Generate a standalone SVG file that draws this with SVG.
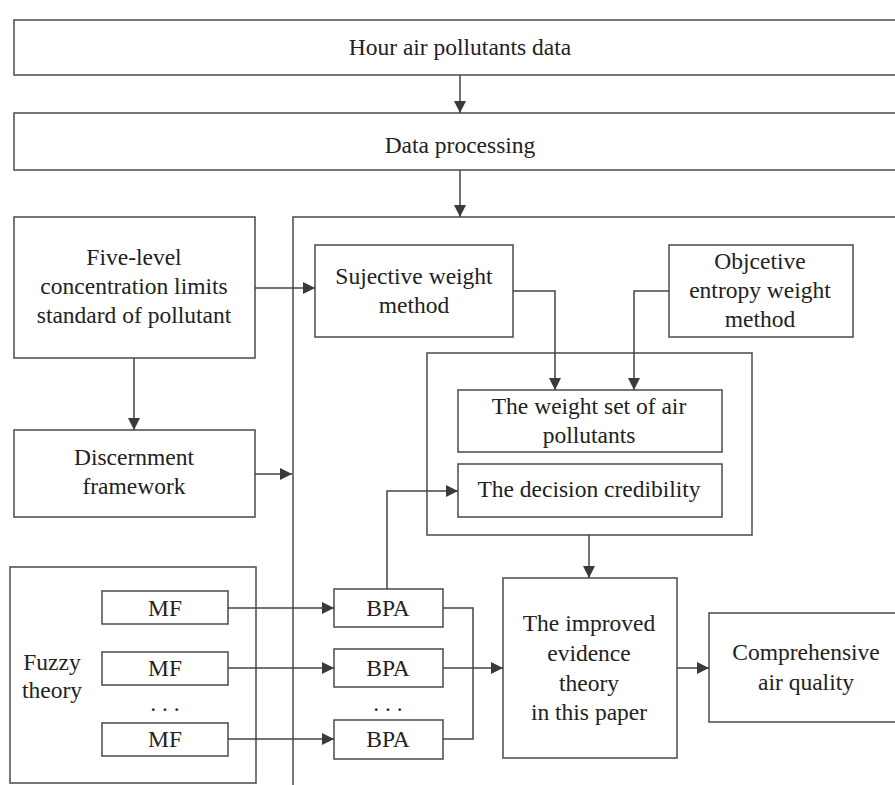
<svg xmlns="http://www.w3.org/2000/svg" width="895" height="785" viewBox="0 0 895 785">
<defs>
<marker id="ah" viewBox="0 0 10 10" refX="10" refY="5" markerWidth="12" markerHeight="12" markerUnits="userSpaceOnUse" orient="auto">
<path d="M0,0 L10,5 L0,10 z" fill="#3a3a3a"/>
</marker>
<style>
.b{fill:#fff;stroke:#555;stroke-width:1.6}
.c{fill:none;stroke:#444;stroke-width:1.5}
.a{fill:none;stroke:#444;stroke-width:1.5;marker-end:url(#ah)}
text{font-family:"Liberation Serif","Times New Roman",serif;font-size:23.5px;fill:#222;text-anchor:middle;dominant-baseline:central}
</style>
</defs>
<rect width="895" height="785" fill="#fff"/>
<g id="hour"><rect class="b" x="14" y="20" width="900" height="55"/><text x="460" y="47">Hour air pollutants data</text></g>
<g id="proc"><rect class="b" x="14" y="113" width="900" height="57"/><text x="460" y="145">Data processing</text></g>
<g id="main"><rect class="b" x="293" y="217" width="650" height="600"/></g>
<g id="five"><rect class="b" x="14" y="217" width="241" height="141"/><text x="134" y="257">Five-level</text><text x="134" y="286">concentration limits</text><text x="134" y="315">standard of pollutant</text></g>
<g id="disc"><rect class="b" x="14" y="430" width="241" height="87"/><text x="134" y="457">Discernment</text><text x="134" y="486">framework</text></g>
<g id="subj"><rect class="b" x="315" y="245" width="198" height="92"/><text x="414" y="276">Sujective weight</text><text x="414" y="305">method</text></g>
<g id="obj"><rect class="b" x="669" y="245" width="184" height="92"/><text x="760" y="261">Objcetive</text><text x="760" y="290">entropy weight</text><text x="760" y="319">method</text></g>
<g id="inner"><rect class="b" x="427" y="353" width="325" height="182"/></g>
<g id="wset"><rect class="b" x="458" y="390" width="264" height="62"/><text x="589" y="406">The weight set of air</text><text x="589" y="435">pollutants</text></g>
<g id="dcred"><rect class="b" x="458" y="464" width="264" height="53"/><text x="589" y="489">The decision credibility</text></g>
<g id="fuzzy"><rect class="b" x="10" y="567" width="246" height="216"/><text x="52" y="662">Fuzzy</text><text x="52" y="690">theory</text><text x="165" y="703">. . .</text></g>
<g id="mf1"><rect class="b" x="102" y="591" width="126" height="33"/><text x="165" y="608">MF</text></g>
<g id="mf2"><rect class="b" x="102" y="652" width="126" height="33"/><text x="165" y="668">MF</text></g>
<g id="mf3"><rect class="b" x="102" y="723" width="126" height="33"/><text x="165" y="739">MF</text></g>
<g id="bpa1"><rect class="b" x="334" y="589" width="109" height="38"/><text x="388" y="608">BPA</text></g>
<g id="bpa2"><rect class="b" x="334" y="649" width="109" height="38"/><text x="388" y="668">BPA</text></g>
<g id="bpadots"><text x="388" y="703">. . .</text></g>
<g id="bpa3"><rect class="b" x="334" y="720" width="109" height="39"/><text x="388" y="739">BPA</text></g>
<g id="impr"><rect class="b" x="503" y="578" width="174" height="180"/><text x="589" y="623">The improved</text><text x="589" y="653">evidence</text><text x="589" y="683">theory</text><text x="589" y="712">in this paper</text></g>
<g id="comp"><rect class="b" x="709" y="613" width="220" height="109"/><text x="806" y="652">Comprehensive</text><text x="806" y="682">air quality</text></g>
<g id="connectors">
<line class="a" x1="460" y1="75" x2="460" y2="113"/>
<line class="a" x1="460" y1="170" x2="460" y2="217"/>
<line class="a" x1="134" y1="358" x2="134" y2="430"/>
<line class="a" x1="255" y1="288" x2="315" y2="288"/>
<line class="a" x1="255" y1="474" x2="292" y2="474"/>
<polyline class="a" points="513,291 555,291 555,390"/>
<polyline class="a" points="669,291 634,291 634,390"/>
<polyline class="a" points="387,589 387,491 458,491"/>
<line class="a" x1="589" y1="535" x2="589" y2="578"/>
<line class="a" x1="228" y1="608" x2="334" y2="608"/>
<line class="a" x1="228" y1="668" x2="334" y2="668"/>
<line class="a" x1="228" y1="739" x2="334" y2="739"/>
<polyline class="c" points="443,608 473,608 473,739 443,739"/>
<line class="a" x1="443" y1="668" x2="503" y2="668"/>
<line class="a" x1="677" y1="668" x2="709" y2="668"/>
</g>
</svg>
